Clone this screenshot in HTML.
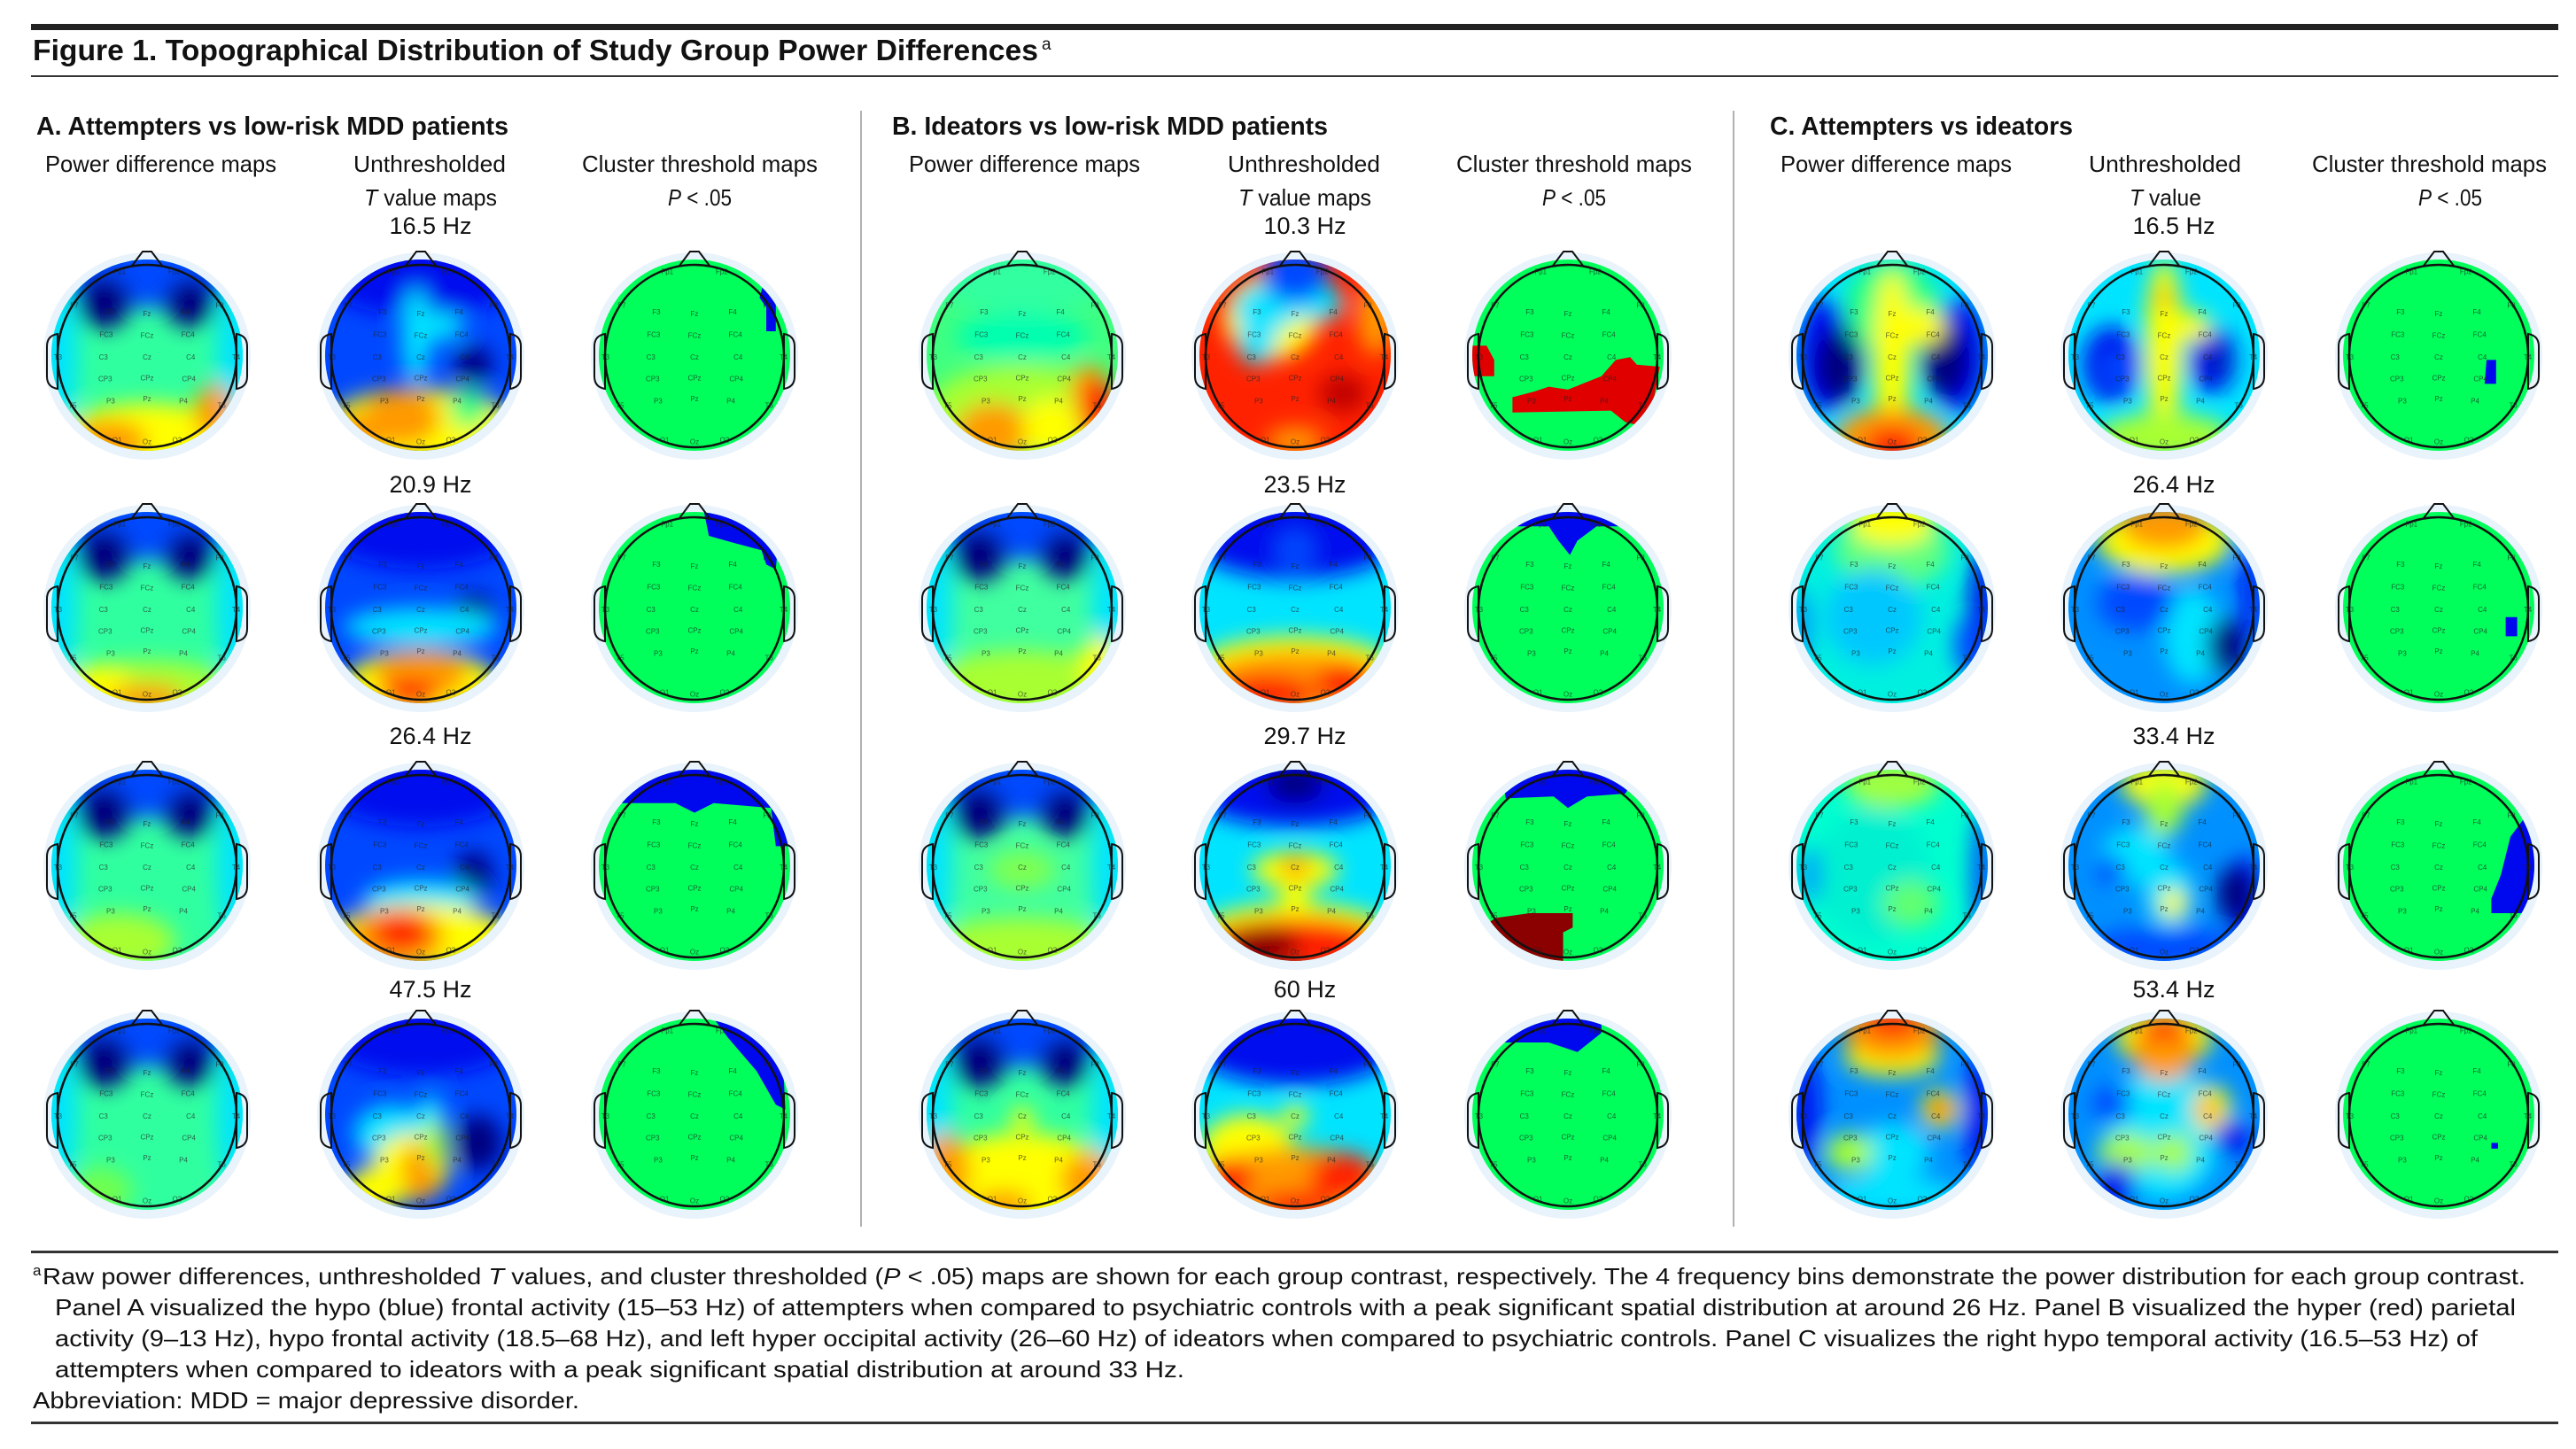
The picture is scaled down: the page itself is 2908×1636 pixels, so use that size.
<!DOCTYPE html>
<html><head><meta charset="utf-8"><title>Figure 1</title>
<style>
html,body{margin:0;padding:0;background:#fff;}
svg{display:block;font-family:"Liberation Sans",sans-serif;}
</style></head>
<body>
<svg id="fig" xmlns="http://www.w3.org/2000/svg" width="2908" height="1636" viewBox="0 0 2908 1636">
<defs>
<filter id="soft" x="-50%" y="-50%" width="200%" height="200%"><feGaussianBlur stdDeviation="12"/></filter>
</defs>
<rect x="0" y="0" width="2908" height="1636" fill="#fff"/>
<rect x="35" y="27" width="2853" height="7" fill="#222"/>
<text x="37" y="68" font-size="33" font-weight="bold" fill="#111" textLength="1135" lengthAdjust="spacingAndGlyphs">Figure 1. Topographical Distribution of Study Group Power Differences</text>
<text x="1176" y="56" font-size="19" fill="#111">a</text>
<rect x="35" y="85" width="2853" height="2" fill="#333"/>

<text x="41" y="152" font-size="29" font-weight="bold" fill="#111" textLength="533" lengthAdjust="spacingAndGlyphs">A. Attempters vs low-risk MDD patients</text>
<text x="1007" y="152" font-size="29" font-weight="bold" fill="#111" textLength="492" lengthAdjust="spacingAndGlyphs">B. Ideators vs low-risk MDD patients</text>
<text x="1998" y="152" font-size="29" font-weight="bold" fill="#111" textLength="342" lengthAdjust="spacingAndGlyphs">C. Attempters vs ideators</text>

<rect x="971" y="125" width="2" height="1260" fill="#b0b0b0"/>
<rect x="1956" y="125" width="2" height="1260" fill="#b0b0b0"/>

<g id="headers" font-size="26" fill="#111"></g>
<g id="heads"></g>

<rect x="35" y="1412" width="2853" height="3" fill="#333"/>
<g font-size="26" fill="#111">
<text x="37" y="1440" font-size="17">a</text>
<text x="48" y="1450" textLength="2803" lengthAdjust="spacingAndGlyphs">Raw power differences, unthresholded <tspan font-style="italic">T</tspan> values, and cluster thresholded (<tspan font-style="italic">P</tspan> &lt; .05) maps are shown for each group contrast, respectively. The 4 frequency bins demonstrate the power distribution for each group contrast.</text>
<text x="62" y="1485" textLength="2778" lengthAdjust="spacingAndGlyphs">Panel A visualized the hypo (blue) frontal activity (15–53 Hz) of attempters when compared to psychiatric controls with a peak significant spatial distribution at around 26 Hz. Panel B visualized the hyper (red) parietal</text>
<text x="62" y="1520" textLength="2735" lengthAdjust="spacingAndGlyphs">activity (9–13 Hz), hypo frontal activity (18.5–68 Hz), and left hyper occipital activity (26–60 Hz) of ideators when compared to psychiatric controls. Panel C visualizes the right hypo temporal activity (16.5–53 Hz) of</text>
<text x="62" y="1555" textLength="1275" lengthAdjust="spacingAndGlyphs">attempters when compared to ideators with a peak significant spatial distribution at around 33 Hz.</text>
<text x="37" y="1590" textLength="617" lengthAdjust="spacingAndGlyphs">Abbreviation: MDD = major depressive disorder.</text>
</g>
<rect x="35" y="1605" width="2853" height="3" fill="#333"/>
</svg>

<script>
// ---- colour palette (jet-like) ----
const DB='#00007f', B='#0008ee', MB='#0048ff', LB='#0090ff', C='#00e4ff', G='#20ff80', YG='#a8ff30', Y='#ffff00', O='#ff9a00', R='#ff2200', DR='#8b0000';
const CLG='#00ff5a';

// ---- data ----
const panelKeys = ['a','b','c'];
const freqA = ['16.5 Hz','20.9 Hz','26.4 Hz','47.5 Hz'];
const freqB = ['10.3 Hz','23.5 Hz','29.7 Hz','60 Hz'];
const freqC = ['16.5 Hz','26.4 Hz','33.4 Hz','53.4 Hz'];

const FB = [[0,-0.85,1.0,0.35,MB],[-0.95,0,0.22,0.9,C],[0.95,0,0.22,0.9,C],[-0.45,-0.55,0.28,0.28,DB],[0.45,-0.55,0.26,0.26,DB]];

const pdA = [
 ['#30ffa0',[...FB,[0,0.85,0.9,0.35,Y],[-0.4,0.9,0.4,0.22,O],[0.7,0.6,0.2,0.3,O]]],
 ['#30ffa0',[...FB,[0,0.85,0.95,0.3,YG],[-0.5,0.85,0.35,0.25,Y],[0,0.95,0.4,0.15,O]]],
 ['#30ffa0',[...FB,[-0.3,0.8,0.6,0.3,YG]]],
 ['#30ffa0',[...FB,[-0.5,0.8,0.35,0.25,'#70ff50']]]
];
const pdB = [
 ['#40ff80',[[0,-0.8,1,0.35,'#30ffa0'],[0,-0.2,0.7,0.25,'#00ffb0'],[0,0.6,1,0.5,YG],[-0.3,0.8,0.4,0.3,O],[0.3,0.75,0.3,0.3,Y],[0.7,0.35,0.2,0.25,O],[0.8,0.6,0.2,0.35,R]]],
 ['#40ffa0',[...FB,[0,0.8,1,0.35,YG],[0.8,0.6,0.2,0.3,Y]]],
 ['#40ffa0',[...FB,[0,0.05,0.35,0.2,'#80ff50'],[0,0.85,1,0.3,YG]]],
 ['#30ffa0',[...FB,[0,0.7,1,0.5,Y],[-0.8,0.6,0.25,0.4,O],[0.7,0.7,0.3,0.3,O],[-0.2,0.95,0.3,0.15,O],[0,0.05,0.12,0.12,Y]]]
];
const pdC = [
 [C,[[-0.7,0,0.3,0.6,B],[0.7,0,0.3,0.6,B],[-0.55,0.1,0.25,0.4,DB],[0.55,0.05,0.25,0.4,DB],[0,-0.5,0.5,0.5,G],[0,0,0.2,0.9,Y],[0.3,-0.3,0.25,0.2,Y],[0,0.85,0.6,0.3,O],[0,0.95,0.3,0.2,R]]],
 ['#00f0e0',[[0,-0.6,0.6,0.4,'#60ff80'],[0,-0.9,0.45,0.25,Y],[-0.2,0.1,0.5,0.5,'#00c8ff'],[0.95,0.1,0.15,0.8,B],[0.8,0.4,0.15,0.3,MB],[-0.95,0.2,0.1,0.4,LB]]],
 ['#00ffd0',[[0,-0.85,0.5,0.25,'#a0ff40'],[-0.2,0.1,0.6,0.7,'#00f0d0'],[0.95,0.1,0.12,0.7,MB],[-0.85,0.1,0.1,0.3,LB],[0.2,0.4,0.3,0.25,'#60ff70']]],
 [LB,[[0,0.4,0.4,0.3,C],[0,0.85,0.7,0.2,C],[-0.9,0,0.15,0.6,B],[0.9,0,0.15,0.6,B],[0,-0.6,0.5,0.2,Y],[0,-0.85,0.5,0.3,O],[0,-0.95,0.3,0.15,R],[0.5,-0.05,0.2,0.2,Y],[0.5,-0.05,0.12,0.12,R],[-0.45,0.4,0.25,0.2,YG]]]
];
const tA = [
 [MB,[[0,-0.8,1,0.4,B],[-0.05,-0.2,0.15,0.5,C],[0.2,-0.3,0.25,0.15,C],[0.55,0.1,0.2,0.2,DB],[0,0.75,1.0,0.4,Y],[-0.2,0.65,0.4,0.3,O],[-0.6,0.8,0.3,0.2,O],[0.5,0.55,0.2,0.2,G]]],
 [MB,[[0,-0.8,1,0.4,B],[0.55,0.05,0.2,0.2,DB],[0,0.2,0.8,0.2,C],[0,0.8,0.8,0.35,Y],[0,0.7,0.5,0.25,O],[-0.1,0.9,0.3,0.15,R]]],
 [MB,[[0,-0.8,1,0.4,B],[0.55,0.1,0.2,0.25,DB],[0,0.35,0.6,0.2,C],[0,0.75,0.95,0.35,Y],[-0.25,0.75,0.5,0.3,O],[-0.2,0.7,0.3,0.2,R]]],
 [MB,[[0,-0.8,1,0.4,B],[0.6,0.3,0.25,0.3,DB],[-0.3,0.2,0.4,0.3,C],[0.1,0.1,0.15,0.3,C],[-0.1,0.55,0.4,0.35,Y],[0,0.6,0.2,0.3,O],[-0.5,0.8,0.3,0.25,Y],[0.15,0.3,0.12,0.25,YG]]]
];
const tB = [
 [R,[[-0.25,-0.4,0.5,0.45,Y],[-0.3,-0.5,0.35,0.25,C],[-0.4,-0.15,0.2,0.25,C],[0.25,-0.55,0.25,0.2,C],[0,-0.85,0.35,0.3,MB],[0.85,-0.4,0.2,0.4,O],[0.5,0.4,0.25,0.2,'#c00000'],[0,0.9,0.3,0.15,O]]],
 [C,[[0,-0.75,1.1,0.45,B],[0,-0.6,0.2,0.2,MB],[0,0.6,1,0.3,Y],[0,0.8,1,0.35,O],[-0.3,0.9,0.5,0.2,R],[0.5,0.8,0.3,0.2,R]]],
 [C,[[0,-0.8,1.1,0.4,B],[0,-0.85,0.3,0.2,DB],[0,0.05,0.45,0.2,Y],[0,0.02,0.15,0.12,O],[0,0.35,0.15,0.2,Y],[0,0.7,1,0.3,Y],[0,0.85,1,0.3,R],[-0.35,0.85,0.4,0.2,DR]]],
 [C,[[0,-0.75,1.1,0.45,B],[0,0.02,0.14,0.12,Y],[-0.5,0.4,0.5,0.4,Y],[0,0.75,1,0.4,O],[0.5,0.65,0.35,0.25,R],[0,0.95,0.4,0.15,R],[-0.7,0.7,0.25,0.25,R]]]
];
const tC = [
 [C,[[-0.55,0.1,0.3,0.4,B],[0.5,0.05,0.25,0.35,B],[-0.5,0.15,0.15,0.2,MB],[0.55,0.05,0.15,0.2,'#0020c0'],[0,-0.1,0.2,0.9,Y],[0.3,-0.3,0.2,0.15,Y],[0,0.85,0.7,0.25,YG],[0,-0.6,0.08,0.1,O]]],
 [LB,[[0.3,0.3,0.3,0.5,C],[0,-0.7,0.7,0.35,Y],[0,-0.85,0.45,0.25,O],[-0.3,-0.05,0.4,0.3,MB],[0.65,0.4,0.2,0.3,DB],[0.9,-0.2,0.1,0.5,B]]],
 [LB,[[0.05,0.3,0.25,0.35,C],[-0.3,-0.1,0.35,0.3,C],[0,-0.85,0.45,0.25,Y],[0,-0.6,0.2,0.3,YG],[0.85,0.4,0.15,0.5,B],[0.75,0.3,0.2,0.3,DB],[0.1,0.4,0.15,0.15,Y],[-0.55,0.05,0.15,0.15,MB],[0,0.85,0.8,0.2,MB]]],
 [LB,[[0,0.2,0.6,0.7,C],[0,-0.8,0.5,0.3,Y],[0,-0.7,0.35,0.35,O],[0,-0.9,0.25,0.12,R],[0.5,-0.05,0.2,0.25,Y],[0.45,-0.05,0.12,0.12,O],[-0.4,0.4,0.3,0.2,YG],[0.1,0.4,0.2,0.2,YG],[0.7,0.25,0.2,0.2,B],[-0.5,0.75,0.2,0.25,B],[-0.55,-0.1,0.2,0.2,MB]]]
];
const clA = [
 [[B,[[0.72,-0.75],[0.85,-0.55],[0.85,-0.25],[0.75,-0.25],[0.75,-0.5],[0.68,-0.6]]]],
 [[B,[[0.1,-1],[0.9,-1],[0.85,-0.4],[0.75,-0.45],[0.7,-0.6],[0.4,-0.68],[0.15,-0.75]]]],
 [[B,[[-1,-1],[1,-1],[1,-0.2],[0.85,-0.2],[0.8,-0.6],[0.2,-0.65],[0,-0.55],[-0.2,-0.65],[-0.8,-0.65]]]],
 [[B,[[0.2,-1],[0.9,-1],[0.95,-0.05],[0.85,-0.1],[0.65,-0.45],[0.35,-0.8]]]]
];
const clB = [
 [['#e00000',[[-0.58,0.44],[-0.35,0.38],[-0.2,0.33],[0,0.36],[0.15,0.3],[0.35,0.22],[0.5,0.05],[0.65,0.02],[0.72,0.1],[0.96,0.12],[0.9,0.45],[0.72,0.73],[0.6,0.7],[0.45,0.58],[-0.58,0.6]]],['#e00000',[[-1,-0.1],[-0.85,-0.1],[-0.77,0.05],[-0.77,0.22],[-1,0.22]]]],
 [[B,[[-0.6,-1],[0.8,-1],[0.75,-0.85],[0.3,-0.85],[0.1,-0.7],[0.02,-0.55],[-0.1,-0.7],[-0.2,-0.85],[-0.55,-0.85]]]],
 [[B,[[-0.7,-1],[0.75,-1],[0.6,-0.75],[0.2,-0.72],[0,-0.6],[-0.15,-0.72],[-0.65,-0.7]]],[DR,[[-0.75,0.55],[-0.4,0.5],[0.05,0.5],[0.05,0.65],[-0.05,0.7],[-0.05,1],[-1,1],[-1,0.7]]]],
 [[B,[[-0.6,-1],[0.35,-1],[0.35,-0.85],[0.1,-0.65],[-0.2,-0.75],[-0.7,-0.75]]],['#e00000',[[-1,0.6],[-0.8,0.6],[-0.6,0.85],[-0.6,1],[-1,1]]]]
];
const clC = [
 [[B,[[0.5,0.05],[0.6,0.05],[0.6,0.3],[0.48,0.3]]]],
 [[B,[[0.7,0.1],[0.82,0.1],[0.82,0.3],[0.7,0.3]]]],
 [[B,[[0.75,-0.3],[0.9,-0.5],[1,-0.5],[1,0.5],[0.55,0.5],[0.55,0.35],[0.65,0.1]]]],
 [[B,[[0.55,0.3],[0.62,0.3],[0.62,0.36],[0.55,0.36]]]]
];
const electrodes = [['Fp1',-0.3,-0.92],['Fp2',0.3,-0.92],['F7',-0.8,-0.55],['F8',0.8,-0.55],['F3',-0.42,-0.48],['Fz',0,-0.46],['F4',0.42,-0.48],['FC3',-0.45,-0.23],['FCz',0,-0.22],['FC4',0.45,-0.23],['T3',-0.98,0.02],['C3',-0.48,0.02],['Cz',0,0.02],['C4',0.48,0.02],['T4',0.98,0.02],['CP3',-0.46,0.26],['CPz',0,0.25],['CP4',0.46,0.26],['T5',-0.82,0.55],['P3',-0.4,0.5],['Pz',0,0.48],['P4',0.4,0.5],['T6',0.82,0.55],['O1',-0.33,0.93],['Oz',0,0.95],['O2',0.33,0.93]];

// ---- layout ----
const colX = [[166,475,784],[1154,1462,1770],[2136,2443,2753]];
const rowY = [401,686,977,1258];
const hzBase = [264,556,840,1126];
const R0 = 108;
const NS='http://www.w3.org/2000/svg';
function mk(tag, attrs, parent){const e=document.createElementNS(NS,tag);for(const k in attrs)e.setAttribute(k,attrs[k]);if(parent)parent.appendChild(e);return e;}

const hdr = document.getElementById('headers');
const headerSpecs = [
 ['a',[[51,261,'Power difference maps'],[399,172,'Unthresholded'],[657,266,'Cluster threshold maps']],[411,150,'T',' value maps'],[754,72]],
 ['b',[[1026,261,'Power difference maps'],[1386,172,'Unthresholded'],[1644,266,'Cluster threshold maps']],[1398,150,'T',' value maps'],[1741,72]],
 ['c',[[2010,261,'Power difference maps'],[2358,172,'Unthresholded'],[2610,265,'Cluster threshold maps']],[2404,81,'T',' value'],[2730,72]]
];
headerSpecs.forEach(function(h){
  h[1].forEach(function(s,i){
    const t=mk('text',{x:s[0],y:194,textLength:s[1],lengthAdjust:'spacingAndGlyphs'},hdr);
    
    
    t.textContent=s[2];
  });
  const t2=mk('text',{x:h[2][0],y:232,textLength:h[2][1],lengthAdjust:'spacingAndGlyphs'},hdr);
  
  
  const it=mk('tspan',{'font-style':'italic'},t2); it.textContent='T';
  const rest=mk('tspan',{},t2); rest.textContent=h[2][3];
  const t3=mk('text',{x:h[3][0],y:232,textLength:h[3][1],lengthAdjust:'spacingAndGlyphs'},hdr);
  
  
  const ip=mk('tspan',{'font-style':'italic'},t3); ip.textContent='P';
  const r2=mk('tspan',{},t3); r2.textContent=' < .05';
});
const freqs=[freqA,freqB,freqC];
freqs.forEach(function(arr,p){
  arr.forEach(function(f,r){
    const t=mk('text',{x:colX[p][1]+11,y:hzBase[r],'text-anchor':'middle','font-size':'27'},hdr);
    
    
    t.textContent=f;
  });
});

const heads=document.getElementById('heads');
let cid=0;
function drawHead(cx,cy,kind,spec,name){
  const g=mk('g',{},heads);
  
  
  mk('circle',{cx:cx,cy:cy+1,r:R0+9,fill:'#e9f3fb'},g);
  const id='clip'+(cid++);
  const cp=mk('clipPath',{id:id},g);
  mk('circle',{cx:cx,cy:cy,r:R0},cp);
  const inner=mk('g',{'clip-path':'url(#'+id+')'},g);
  if(kind==='cl'){
    mk('rect',{x:cx-R0,y:cy-R0,width:2*R0,height:2*R0,fill:CLG},inner);
    spec.forEach(function(pp){
      const pts=pp[1].map(function(q){return (cx+q[0]*R0).toFixed(1)+','+(cy+q[1]*R0).toFixed(1);}).join(' ');
      const pg=mk('polygon',{points:pts,fill:pp[0]},inner);
      
      
    });
  } else {
    mk('rect',{x:cx-R0,y:cy-R0,width:2*R0,height:2*R0,fill:spec[0]},inner);
    const bl=mk('g',{filter:'url(#soft)'},inner);
    spec[1].forEach(function(b){
      const e=mk('ellipse',{cx:cx+b[0]*R0,cy:cy+b[1]*R0,rx:b[2]*R0,ry:b[3]*R0,fill:b[4]},bl);
      
      
    });
  }
  mk('path',{d:'M'+(cx-101)+','+(cy-24)+' q-12,2 -12,14 v34 q0,12 12,14 z',fill:'none',stroke:'#111','stroke-width':2},g);
  mk('path',{d:'M'+(cx+101)+','+(cy-24)+' q12,2 12,14 v34 q0,12 -12,14 z',fill:'none',stroke:'#111','stroke-width':2},g);
  mk('polyline',{points:(cx-17)+','+(cy-101)+' '+(cx-5)+','+(cy-117)+' '+(cx+5)+','+(cy-117)+' '+(cx+17)+','+(cy-101),fill:'none',stroke:'#111','stroke-width':2},g);
  mk('ellipse',{cx:cx,cy:cy+1,rx:101,ry:103,fill:'none',stroke:'#111','stroke-width':2.5},g);
  const lg=mk('g',{'font-size':'8','fill':'#222','text-anchor':'middle','opacity':'0.7'},g);
  electrodes.forEach(function(el){
    const t=mk('text',{x:cx+el[1]*R0*0.95,y:cy+el[2]*R0*0.95+3},lg);
    
    
    t.textContent=el[0];
  });
}
const pdAll=[pdA,pdB,pdC], tAll=[tA,tB,tC], clAll=[clA,clB,clC];
for(let p=0;p<3;p++){
  for(let r=0;r<4;r++){
    drawHead(colX[p][0],rowY[r],'pd',pdAll[p][r],'power-difference-map-'+panelKeys[p]+(r+1));
    drawHead(colX[p][1],rowY[r],'t',tAll[p][r],'t-value-map-'+panelKeys[p]+(r+1));
    drawHead(colX[p][2],rowY[r],'cl',clAll[p][r],'cluster-threshold-map-'+panelKeys[p]+(r+1));
  }
}
</script>
</body></html>
